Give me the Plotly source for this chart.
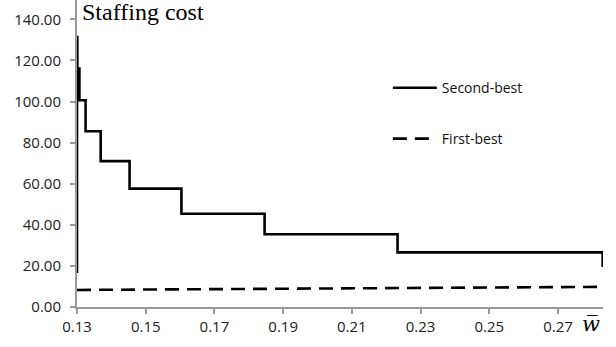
import plotly.graph_objects as go

# Second-best staffing cost: piecewise-constant in the wage bound w̄
w_second = [0.1300, 0.1300, 0.1301, 0.1307, 0.1325, 0.1369, 0.1453, 0.1604, 0.1846, 0.2233, 0.2830]
cost_second = [16.5, 131.4, 116.0, 100.6, 85.5, 71.0, 57.6, 45.4, 35.4, 26.6, 19.5]

# First-best staffing cost: nearly flat, slowly rising
w_first = [0.1300, 0.1830, 0.2330, 0.2830]
cost_first = [8.3, 8.8, 9.3, 9.8]

x_ticks = [0.13, 0.15, 0.17, 0.19, 0.21, 0.23, 0.25, 0.27]
y_ticks = [0, 20, 40, 60, 80, 100, 120, 140]

fig = go.Figure()
fig.add_trace(go.Scatter(
    x=w_second, y=cost_second, mode="lines", name="Second-best",
    line=dict(color="black", width=2.6, shape="hv"),
    cliponaxis=False, legend="legend",
))
fig.add_trace(go.Scatter(
    x=w_first, y=cost_first, mode="lines", name="First-best",
    line=dict(color="black", width=2.6, dash="14px,8px"),
    cliponaxis=False, legend="legend2",
))

legend_font = dict(family="Open Sans", size=14, color="#111")
tick_font = dict(family="Open Sans", size=15, color="#222")
fig.update_layout(
    width=616, height=347,
    margin=dict(l=77, r=13, t=0, b=40),
    plot_bgcolor="white", paper_bgcolor="white",
    showlegend=True,
    legend=dict(x=0.591, y=0.713, xanchor="left", yanchor="middle",
                font=legend_font, bgcolor="rgba(0,0,0,0)", itemwidth=44),
    legend2=dict(x=0.591, y=0.547, xanchor="left", yanchor="middle",
                 font=legend_font, bgcolor="rgba(0,0,0,0)", itemwidth=44),
    xaxis=dict(
        range=[0.13, 0.2831], tickvals=x_ticks,
        ticktext=[f"{v:.2f}" for v in x_ticks],
        showgrid=False, zeroline=False,
        showline=True, linecolor="#999", linewidth=2,
        ticks="outside", ticklen=5, tickwidth=2, tickcolor="#999",
        tickfont=tick_font, layer="below traces",
    ),
    yaxis=dict(
        range=[0, 149.4], tickvals=y_ticks,
        ticktext=[f"{v:.2f}" for v in y_ticks],
        showgrid=False, zeroline=False,
        showline=True, linecolor="#999", linewidth=2,
        ticks="outside", ticklen=5, tickwidth=2, tickcolor="#999",
        tickfont=tick_font, ticklabelstandoff=6, layer="below traces",
    ),
    annotations=[
        dict(text="Staffing cost", xref="paper", yref="paper", x=0.006, y=1.01,
             xanchor="left", yanchor="top", showarrow=False,
             font=dict(family="Liberation Serif", size=24, color="black")),
        dict(text="<i>w\u0305</i>", xref="paper", yref="paper", x=0.957, y=-0.01,
             xanchor="left", yanchor="top", showarrow=False,
             font=dict(family="DejaVu Serif", size=21, color="black")),
    ],
)

fig.write_html("out.html")
